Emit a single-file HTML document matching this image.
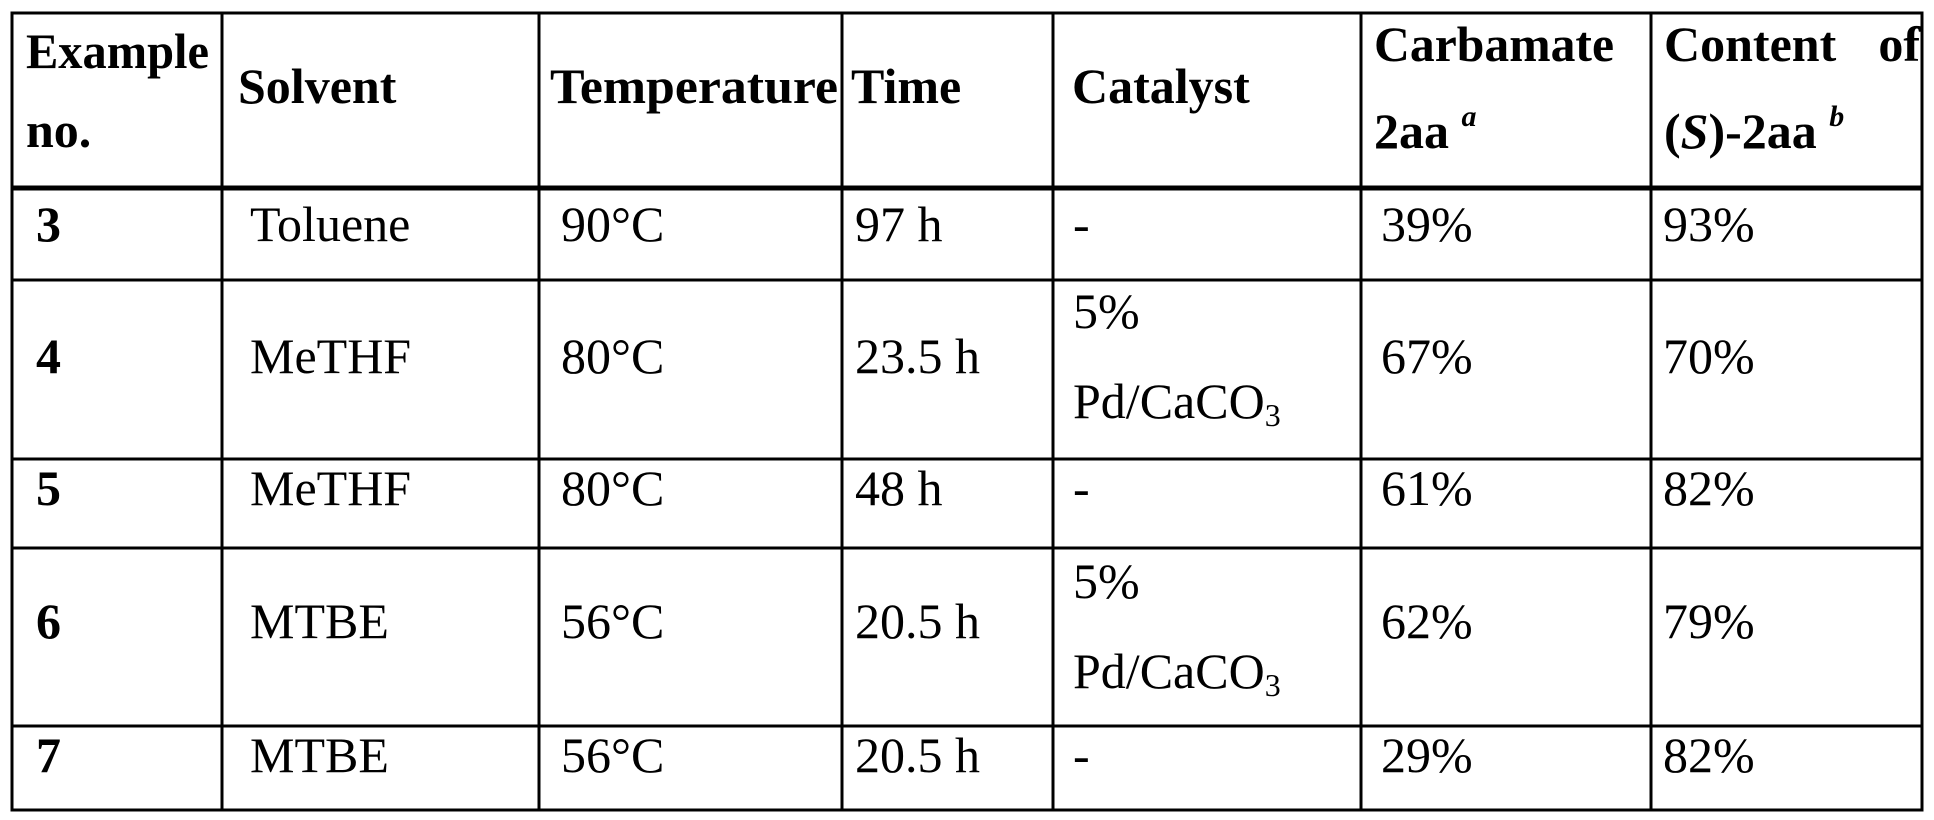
<!DOCTYPE html>
<html><head><meta charset="utf-8"><style>
html,body{margin:0;padding:0;background:#fff;width:1934px;height:820px;overflow:hidden}
svg{display:block}
text{font-family:"Liberation Serif",serif;font-size:50px;fill:#000}
.b{font-weight:bold}
</style></head><body>
<svg width="1934" height="820" viewBox="0 0 1934 820">
<g stroke="#000" stroke-width="3" fill="none">
<rect x="12" y="13" width="1910" height="797"/>
<line x1="12" y1="188" x2="1922" y2="188" stroke-width="5"/>
<line x1="12" y1="280" x2="1922" y2="280"/>
<line x1="12" y1="459" x2="1922" y2="459"/>
<line x1="12" y1="548" x2="1922" y2="548"/>
<line x1="12" y1="726" x2="1922" y2="726"/>
<line x1="222" y1="13" x2="222" y2="810"/>
<line x1="539" y1="13" x2="539" y2="810"/>
<line x1="842" y1="13" x2="842" y2="810"/>
<line x1="1053" y1="13" x2="1053" y2="810"/>
<line x1="1361" y1="13" x2="1361" y2="810"/>
<line x1="1651" y1="13" x2="1651" y2="810"/>
</g>
<g class="b">
<text class="b" x="26" y="68" textLength="183" lengthAdjust="spacingAndGlyphs">Example</text>
<text class="b" x="26" y="147">no.</text>
<text class="b" x="238" y="103">Solvent</text>
<text class="b" x="550" y="103" textLength="288" lengthAdjust="spacingAndGlyphs">Temperature</text>
<text class="b" x="851" y="103">Time</text>
<text class="b" x="1072" y="103">Catalyst</text>
<text class="b" x="1374" y="61" textLength="240" lengthAdjust="spacingAndGlyphs">Carbamate</text>
<text class="b" x="1374" y="148">2aa <tspan font-size="30" font-style="italic" dy="-22">a</tspan></text>
<text class="b" x="1664" y="61">Content</text>
<text class="b" x="1920" y="61" text-anchor="end">of</text>
<text class="b" x="1664" y="148">(<tspan font-style="italic">S</tspan>)-2aa <tspan font-size="30" font-style="italic" dy="-22">b</tspan></text>
</g>
<!-- row 3 -->
<text class="b" x="36" y="241">3</text>
<text x="250" y="241">Toluene</text>
<text x="561" y="241">90°C</text>
<text x="855" y="241">97 h</text>
<text x="1073" y="241">-</text>
<text x="1381" y="241">39%</text>
<text x="1663" y="241">93%</text>
<!-- row 4 -->
<text class="b" x="36" y="373">4</text>
<text x="250" y="373">MeTHF</text>
<text x="561" y="373">80°C</text>
<text x="855" y="373">23.5 h</text>
<text x="1073" y="328">5%</text>
<text x="1073" y="418">Pd/CaCO<tspan font-size="32" dy="8">3</tspan></text>
<text x="1381" y="373">67%</text>
<text x="1663" y="373">70%</text>
<!-- row 5 -->
<text class="b" x="36" y="505">5</text>
<text x="250" y="505">MeTHF</text>
<text x="561" y="505">80°C</text>
<text x="855" y="505">48 h</text>
<text x="1073" y="505">-</text>
<text x="1381" y="505">61%</text>
<text x="1663" y="505">82%</text>
<!-- row 6 -->
<text class="b" x="36" y="638">6</text>
<text x="250" y="638">MTBE</text>
<text x="561" y="638">56°C</text>
<text x="855" y="638">20.5 h</text>
<text x="1073" y="598">5%</text>
<text x="1073" y="688">Pd/CaCO<tspan font-size="32" dy="8">3</tspan></text>
<text x="1381" y="638">62%</text>
<text x="1663" y="638">79%</text>
<!-- row 7 -->
<text class="b" x="36" y="772">7</text>
<text x="250" y="772">MTBE</text>
<text x="561" y="772">56°C</text>
<text x="855" y="772">20.5 h</text>
<text x="1073" y="772">-</text>
<text x="1381" y="772">29%</text>
<text x="1663" y="772">82%</text>
</svg>
</body></html>
